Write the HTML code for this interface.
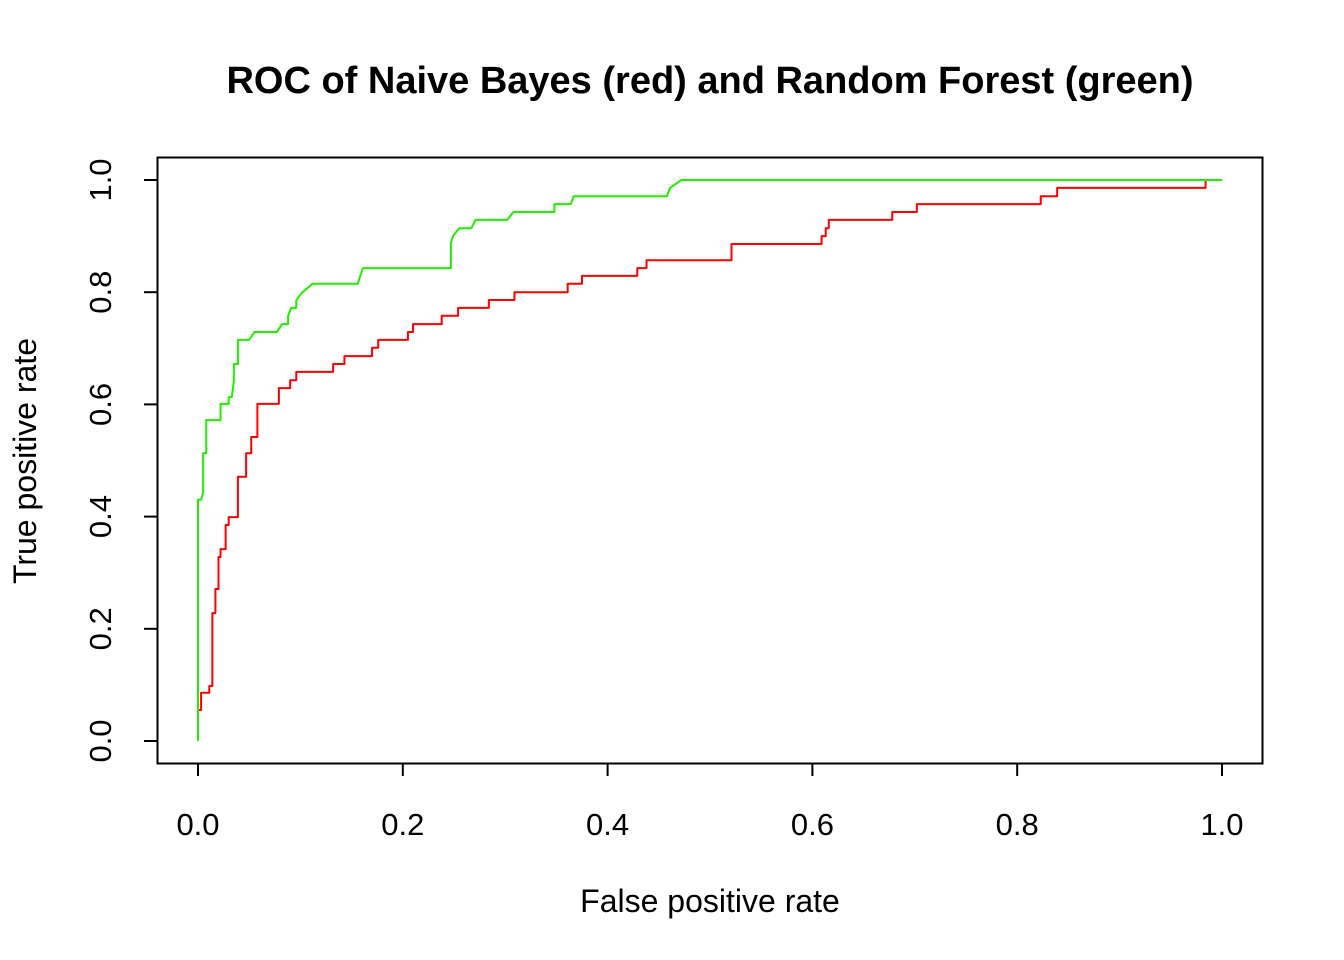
<!DOCTYPE html>
<html><head><meta charset="utf-8"><style>
body{margin:0;background:#fff}
svg{display:block;font-family:"Liberation Sans",Arial,sans-serif}
</style></head><body>
<svg id="chart" width="1344" height="960" viewBox="0 0 1344 960">
<text x="710" y="93" text-anchor="middle" font-size="38" font-weight="bold">ROC of Naive Bayes (red) and Random Forest (green)</text>
<rect x="157.5" y="157.5" width="1105" height="606" fill="none" stroke="#000" stroke-width="2"/>
<g id="xaxis"></g>
<g id="yaxis"></g>
<text x="710" y="912" text-anchor="middle" font-size="32">False positive rate</text>
<text transform="translate(36,461) rotate(-90)" text-anchor="middle" font-size="32">True positive rate</text>
<g id="series"></g>
</svg>
<script>
const xTicks=[0,0.2,0.4,0.6,0.8,1.0];
const yTicks=[0,0.2,0.4,0.6,0.8,1.0];
const tickLabels=["0.0","0.2","0.4","0.6","0.8","1.0"];
const nbFpr=[0,0,0.002,0.003,0.003,0.011,0.011,0.014,0.014,0.017,0.017,0.020,0.020,0.022,0.022,0.027,0.027,0.030,0.030,0.039,0.039,0.047,0.047,0.052,0.052,0.058,0.058,0.079,0.079,0.090,0.090,0.096,0.096,0.132,0.132,0.143,0.143,0.170,0.170,0.176,0.176,0.205,0.205,0.210,0.210,0.238,0.238,0.254,0.254,0.284,0.284,0.309,0.309,0.361,0.361,0.375,0.375,0.429,0.429,0.438,0.438,0.521,0.521,0.609,0.609,0.613,0.613,0.616,0.616,0.678,0.678,0.702,0.702,0.823,0.823,0.839,0.839,0.984,0.984,1];
const nbTpr=[0,0.055,0.055,0.055,0.086,0.086,0.098,0.098,0.228,0.228,0.271,0.271,0.328,0.328,0.342,0.342,0.385,0.385,0.399,0.399,0.471,0.471,0.513,0.513,0.542,0.542,0.601,0.601,0.629,0.629,0.643,0.643,0.658,0.658,0.672,0.672,0.686,0.686,0.701,0.701,0.715,0.715,0.729,0.729,0.743,0.743,0.758,0.758,0.772,0.772,0.786,0.786,0.800,0.800,0.815,0.815,0.829,0.829,0.843,0.843,0.857,0.857,0.886,0.886,0.900,0.900,0.914,0.914,0.929,0.929,0.943,0.943,0.957,0.957,0.971,0.971,0.986,0.986,1,1];
const rfFpr=[0,0,0.003,0.005,0.005,0.008,0.008,0.022,0.022,0.030,0.030,0.033,0.035,0.035,0.039,0.039,0.050,0.055,0.077,0.082,0.088,0.088,0.091,0.096,0.096,0.102,0.112,0.156,0.161,0.247,0.247,0.249,0.255,0.267,0.271,0.302,0.308,0.348,0.348,0.364,0.367,0.458,0.461,0.472,1];
const rfTpr=[0,0.430,0.430,0.442,0.513,0.513,0.572,0.572,0.601,0.601,0.613,0.613,0.642,0.672,0.672,0.715,0.715,0.729,0.729,0.743,0.743,0.758,0.772,0.772,0.786,0.800,0.815,0.815,0.843,0.843,0.888,0.900,0.914,0.914,0.929,0.929,0.943,0.943,0.957,0.957,0.971,0.971,0.986,1,1];
const NS="http://www.w3.org/2000/svg";
const X=v=>198+v*1024, Y=v=>741-v*561;
const xa=document.getElementById('xaxis'), ya=document.getElementById('yaxis');
function mk(t,a){const e=document.createElementNS(NS,t);for(const k in a)e.setAttribute(k,a[k]);return e;}
let l=mk('line',{x1:X(0),x2:X(1),y1:763.5,y2:763.5,stroke:'#000','stroke-width':2});xa.appendChild(l);
xTicks.forEach((v,i)=>{
 const t=mk('line',{x1:X(v),x2:X(v),y1:763,y2:776,stroke:'#000','stroke-width':2});
 
 
 xa.appendChild(t);
 const s=mk('text',{x:X(v),y:835,'text-anchor':'middle','font-size':31});s.textContent=tickLabels[i];
 
 
 xa.appendChild(s);
});
yTicks.forEach((v,i)=>{
 const t=mk('line',{x1:144,x2:157,y1:Y(v),y2:Y(v),stroke:'#000','stroke-width':2});
 
 
 ya.appendChild(t);
 const s=mk('text',{transform:`translate(111,${Y(v)}) rotate(-90)`,'text-anchor':'middle','font-size':31});s.textContent=tickLabels[i];
 
 
 ya.appendChild(s);
});
const g=document.getElementById('series');
function line(xs,ys,col,name){
 const p=mk('polyline',{points:xs.map((x,i)=>X(x)+','+Y(ys[i])).join(' '),fill:'none',stroke:col,'stroke-width':2,'stroke-linejoin':'round'});
 
 
 g.appendChild(p);
}
line(nbFpr,nbTpr,'#ff0000','naive-bayes-roc');
line(rfFpr,rfTpr,'#22ee00','random-forest-roc');
</script>
</body></html>
